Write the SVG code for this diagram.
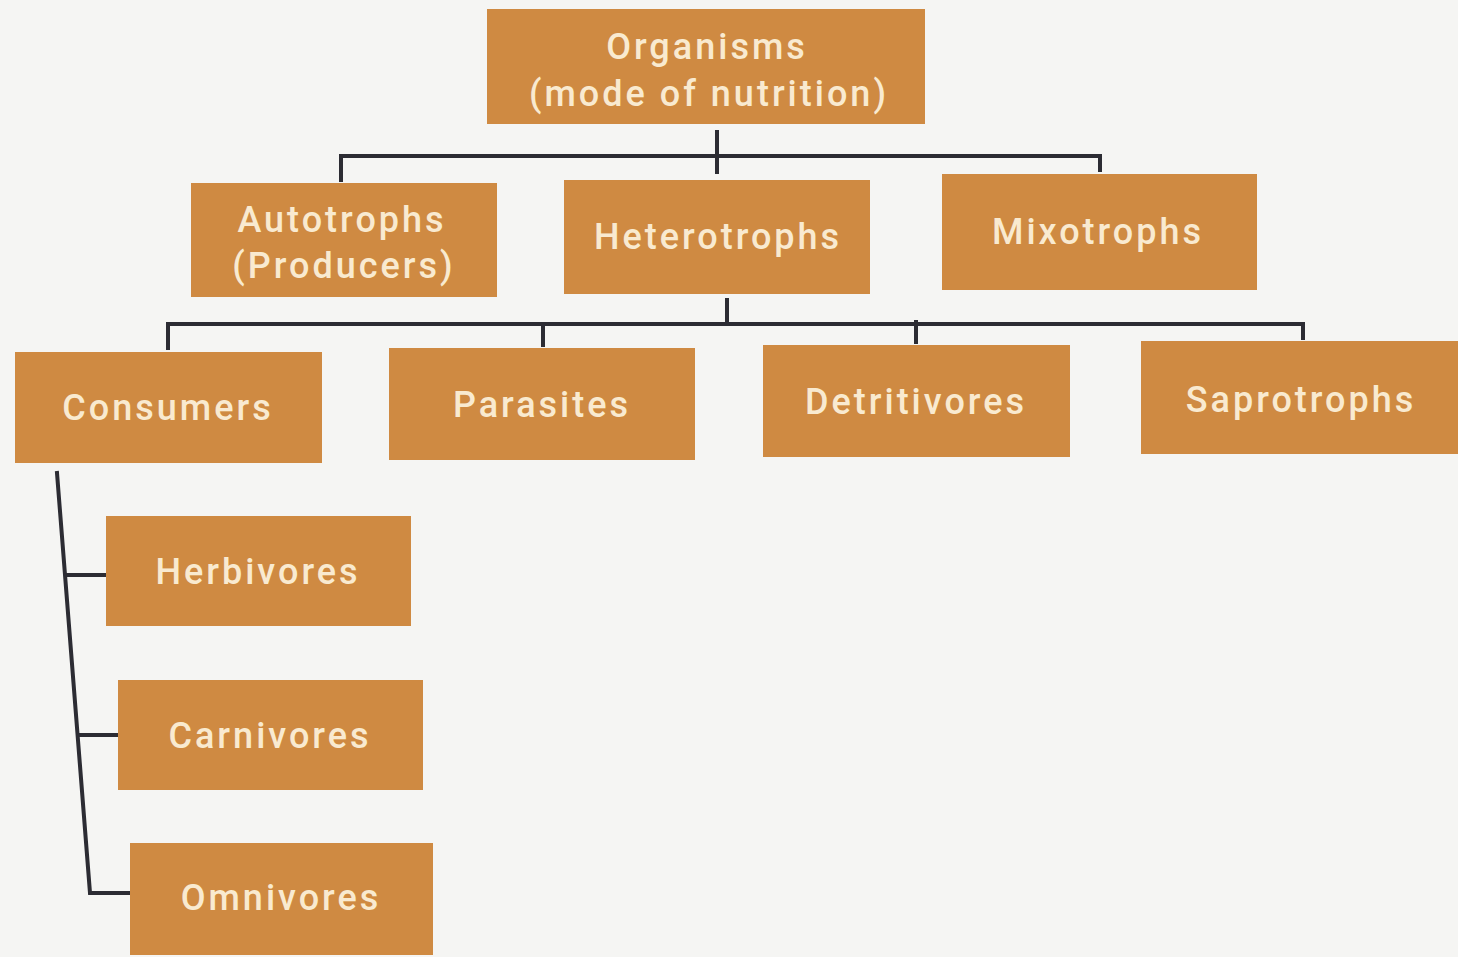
<svg xmlns="http://www.w3.org/2000/svg" width="1458" height="957" viewBox="0 0 1458 957">
<style>
.box{fill:#cf8a42}
.t{font-family:Roboto,"Liberation Sans",sans-serif;font-size:36px;font-weight:500;fill:#f9ead0;text-anchor:middle;letter-spacing:3px}
.c{stroke:#2c2c33;stroke-width:4;fill:none;stroke-linecap:square}
</style>
<rect width="1458" height="957" fill="#f5f5f3"/>
<g id="connectors">
<path class="c" d="M717,132 V172 M341,180 V156 H1100 V170"/>
<path class="c" d="M727,300 V322 M168,348 V324 H1303 V338 M543,324 V345 M916,322 V342"/>
<path class="c" d="M57,473 L90,893 H130 M66,575 H106 M80,735 H118"/>
</g>
<g id="organisms"><rect class="box" x="487" y="9" width="438" height="115"/><text class="t" x="707" y="59">Organisms</text><text class="t" x="709" y="106">(mode of nutrition)</text></g>
<g id="autotrophs"><rect class="box" x="191" y="183" width="306" height="114"/><text class="t" x="342" y="232">Autotrophs</text><text class="t" x="344" y="278">(Producers)</text></g>
<g id="heterotrophs"><rect class="box" x="564" y="180" width="306" height="114"/><text class="t" x="718" y="249">Heterotrophs</text></g>
<g id="mixotrophs"><rect class="box" x="942" y="174" width="315" height="116"/><text class="t" x="1098" y="244">Mixotrophs</text></g>
<g id="consumers"><rect class="box" x="15" y="352" width="307" height="111"/><text class="t" x="168" y="420">Consumers</text></g>
<g id="parasites"><rect class="box" x="389" y="348" width="306" height="112"/><text class="t" x="542" y="417">Parasites</text></g>
<g id="detritivores"><rect class="box" x="763" y="345" width="307" height="112"/><text class="t" x="916" y="414">Detritivores</text></g>
<g id="saprotrophs"><rect class="box" x="1141" y="341" width="317" height="113"/><text class="t" x="1301" y="412">Saprotrophs</text></g>
<g id="herbivores"><rect class="box" x="106" y="516" width="305" height="110"/><text class="t" x="258" y="584">Herbivores</text></g>
<g id="carnivores"><rect class="box" x="118" y="680" width="305" height="110"/><text class="t" x="270" y="748">Carnivores</text></g>
<g id="omnivores"><rect class="box" x="130" y="843" width="303" height="112"/><text class="t" x="281" y="910">Omnivores</text></g>
</svg>
